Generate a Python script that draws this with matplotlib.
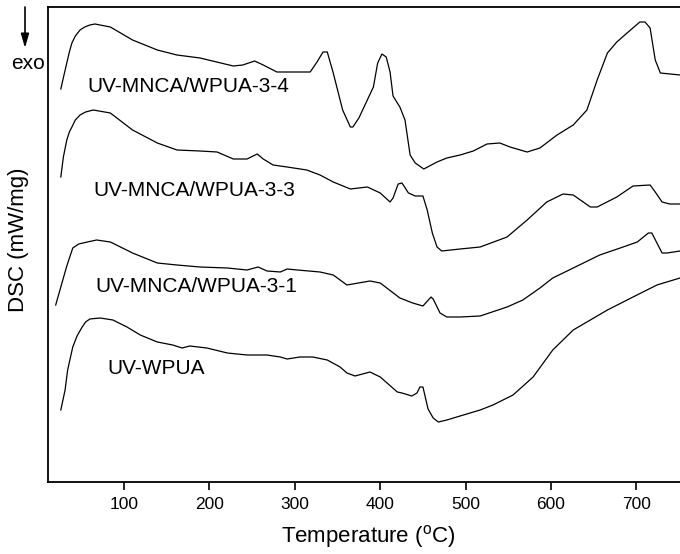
import matplotlib
matplotlib.use("Agg")
import matplotlib.pyplot as plt

plt.rcParams['font.family'] = ['Liberation Sans', 'DejaVu Sans']
plt.rcParams['mathtext.fontset'] = 'custom'
plt.rcParams['mathtext.rm'] = 'Liberation Sans'

# temperatures (C) and DSC signal (arbitrary offset units)
t_34 = [26, 30, 33, 36, 39, 43, 48.5, 54, 60, 66, 84, 110, 139, 162, 189, 228, 239, 253,
        263, 279, 306, 318, 326, 333, 338, 345, 356, 365, 368, 375, 392, 397, 402, 407,
        411.5, 415, 423, 429, 435, 441, 451, 466.5, 478, 493.5, 509, 525, 540, 552,
        572, 587, 607, 626, 642, 654, 666, 677, 689, 704, 710, 716, 722, 728, 751]
dsc_34 = [393, 408, 419, 430, 439, 446, 452, 455, 457, 458, 455, 442, 432, 427, 424, 416,
          417, 421, 417, 410, 410, 410, 420, 430, 430, 409, 372, 355, 355, 364, 395,
          419, 428, 425, 410, 386, 375, 362, 327, 319, 313, 320, 324, 327, 331, 338,
          339, 335, 330, 334, 347, 357, 372, 402, 429, 440, 449, 460, 460, 454, 422,
          409, 407]

t_33 = [26, 29, 33, 36, 39, 43, 48.5, 55, 64, 84, 110, 139, 162, 189, 209, 228, 244, 256,
        263, 274.5, 291, 314, 329.5, 345, 365, 385, 400, 411.5, 415, 421, 425.5, 433,
        441, 450, 455, 461, 466.5, 472, 493.5, 517, 548.5, 572, 595, 614, 626, 646,
        654, 677, 696, 716, 722, 730, 739, 751]
dsc_33 = [305, 325, 342, 350, 355, 362, 367, 370, 372, 369, 352, 339, 332, 331, 330, 323,
          323, 328, 323, 317, 315, 312, 307, 300, 293, 295, 289, 280, 284, 298, 299,
          289, 286, 286, 272, 249, 235, 231, 233, 235, 245, 262, 280, 288, 287, 275,
          275, 285, 296, 297, 290, 280, 278, 278]

t_31 = [20, 25, 33, 40, 47, 57, 68, 84, 110, 139, 162, 189, 221, 244, 257, 267.5, 283,
        291, 303, 329.5, 345, 361, 388, 400, 423, 438, 450, 459.5, 462, 470, 478,
        493.5, 517, 548.5, 567, 587, 602, 626, 657, 681, 701, 714, 718, 730, 736, 751]
dsc_31 = [177, 192, 216, 234, 238, 240, 242, 240, 229, 219, 217, 215, 214, 212, 215, 211,
          210, 213, 212, 210, 207, 197, 201, 199, 184, 179, 176, 185, 183, 169, 165,
          165, 166, 175, 182, 194, 204, 214, 227, 234, 240, 249, 249, 229, 229, 231]

t_wpua = [26, 31, 34, 40, 45, 51, 55, 60, 72, 87, 103.5, 119, 139, 157, 168, 177, 197,
          221, 244, 267.5, 283, 291, 306, 321, 338, 353, 361, 370.5, 388, 400, 408,
          420, 425.5, 437, 443, 446.5, 450, 456, 462, 468, 478, 493.5, 517, 532,
          555.5, 579, 602, 626, 642, 666, 696, 724, 751]
dsc_wpua = [72, 92, 112, 135, 146, 155, 160, 163, 164, 162, 155, 147, 140, 137, 134, 136,
            134, 129, 127, 127, 125, 123, 125, 125, 122, 115, 109, 106, 110, 105, 99,
            90, 89, 86, 89, 95, 95, 73, 64, 60, 62, 66, 72, 77,
            87, 105, 132, 152, 160, 172, 185, 197, 204]

series = [(t_34, dsc_34), (t_33, dsc_33), (t_31, dsc_31), (t_wpua, dsc_wpua)]
names = ['UV-MNCA/WPUA-3-4', 'UV-MNCA/WPUA-3-3', 'UV-MNCA/WPUA-3-1', 'UV-WPUA']
label_pos = [(57, 396), (64, 291), (67, 195), (81, 114)]
xticks = [100, 200, 300, 400, 500, 600, 700]

fig = plt.figure(figsize=(6.8, 5.54), dpi=100)
ax = fig.add_axes([48 / 680, 1 - 482 / 554, 1 - 48 / 680, (482 - 7) / 554])

for (t, d) in series:
    ax.plot(t, d, color='black', lw=0.9, solid_joinstyle='round')

for name, (x, y) in zip(names, label_pos):
    ax.text(x, y, name, fontsize=15, ha='left', va='center')

ax.set_xlim(11, 751)
ax.set_ylim(0, 475)
ax.set_xticks(xticks)
ax.set_yticks([])
ax.tick_params(axis='x', direction='out', length=6, width=1.2, labelsize=12.5, pad=5)
for side in ['left', 'bottom', 'top']:
    ax.spines[side].set_linewidth(1.3)
ax.spines['right'].set_visible(False)

fig.text(368 / 680, 1 - 537 / 554, 'Temperature ($^\\mathregular{o}$C)', fontsize=16,
         ha='center', va='center')
fig.text(19 / 680, 1 - 240 / 554, 'DSC (mW/mg)', fontsize=16, rotation=90,
         ha='center', va='center')

# exo arrow
fig.text(28 / 680, 1 - 63 / 554, 'exo', fontsize=15, ha='center', va='center')
ax.annotate('', xy=(25 / 680, 1 - 48 / 554), xytext=(25 / 680, 1 - 7 / 554),
            xycoords='figure fraction', textcoords='figure fraction',
            arrowprops=dict(arrowstyle='-|>,head_length=0.7,head_width=0.2',
                            color='black', lw=1.2, mutation_scale=12,
                            shrinkA=0, shrinkB=0))

fig.savefig('out.png', dpi=100)
